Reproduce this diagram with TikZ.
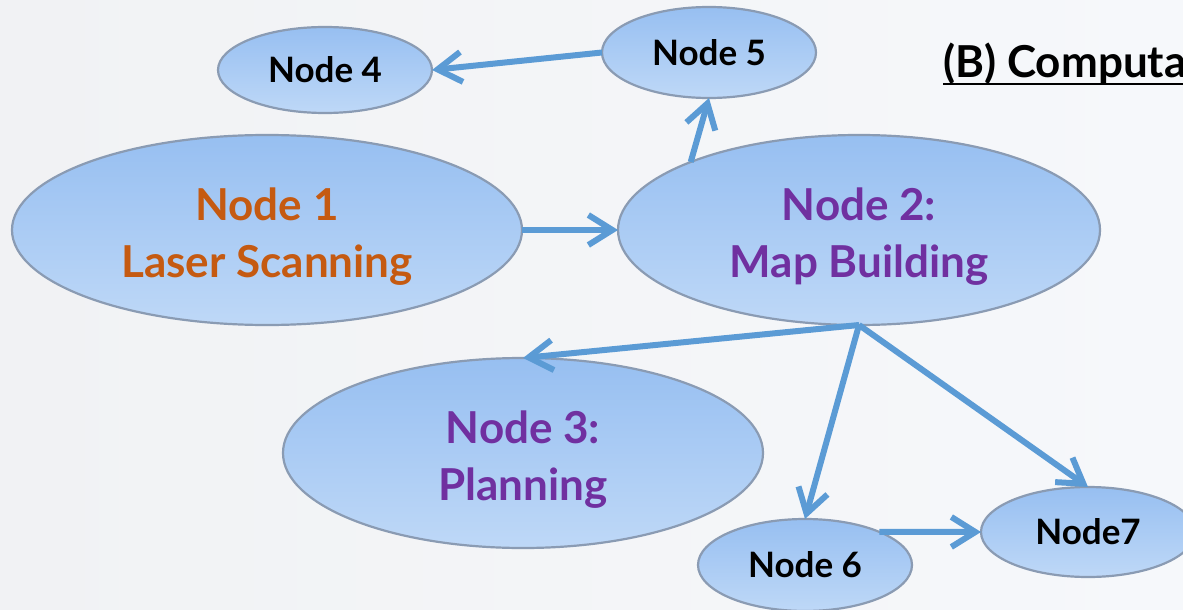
\documentclass[tikz,border=0pt]{standalone}
\usepackage{fontspec}
\setmainfont{Lato}
\usetikzlibrary{arrows.meta,shapes.geometric}
\definecolor{bgL}{HTML}{F1F2F4}
\definecolor{bgR}{HTML}{F6F8FB}
\definecolor{fillT}{HTML}{97BFF1}
\definecolor{fillB}{HTML}{BED8F7}
\definecolor{edgeC}{HTML}{8A9BB3}
\definecolor{arrowC}{HTML}{5B9BD5}
\definecolor{orangeC}{HTML}{C55A11}
\definecolor{purpleC}{HTML}{7030A0}
\newcommand{\topstrut}{\rule{0pt}{23pt}}
\begin{document}
\begin{tikzpicture}[x=0.5pt,y=-0.5pt,
  ell/.style={ellipse, draw=edgeC, line width=1.1pt, top color=fillT, bottom color=fillB,
              inner sep=0pt, outer sep=0pt, align=center},
  big/.style={ell, font=\fontsize{22}{28.5}\selectfont\bfseries},
  small/.style={ell, minimum width=107pt, font=\fontsize{17.5}{21}\selectfont\bfseries},
  conn/.style={draw=arrowC, line width=3pt, -{Straight Barb[length=12pt,width=15pt]}},
  title/.style={font=\fontsize{22}{26}\selectfont\bfseries, inner sep=0pt, anchor=base west}
]
\useasboundingbox (0,0) rectangle (1183,610);
\clip (0,0) rectangle (1183,610);
\fill[left color=bgL, right color=bgR] (0,0) rectangle (1183,610);

\node[big, minimum width=255pt, minimum height=95pt, text=orangeC] (n1) at (267,230) {\topstrut Node 1\\Laser Scanning};
\node[big, minimum width=241pt, minimum height=95pt, text=purpleC] (n2) at (859,230) {\topstrut Node 2:\\Map Building};
\node[big, minimum width=240pt, minimum height=95pt, text=purpleC] (n3) at (523,453) {\topstrut Node 3:\\Planning};
\node[small, minimum height=43pt] (n4) at (325,70) {Node 4};
\node[small, minimum height=45.5pt] (n5) at (709,52.5) {Node 5};
\node[small, minimum height=46pt] (n6) at (805,565) {Node 6};
\node[small, minimum height=45pt] (n7) at (1088,532) {Node7};

\node[title] (t) at (943,78) {(B) Computa};
\draw[line width=1pt] ([yshift=-3pt]t.base west) -- ([yshift=-3pt]t.base east);

\draw[conn] (n5.west) -- (n4.east);
\draw[conn] (n1.east) -- (n2.west);
\draw[conn] (n2.158) -- (n5.south);
\draw[conn] (n2.south) -- (n3.north);
\draw[conn] (n2.south) -- (n6.north);
\draw[conn] (n2.south) -- (n7.north);
\draw[conn] (n6.24) -- (n7.west);
\end{tikzpicture}
\end{document}
